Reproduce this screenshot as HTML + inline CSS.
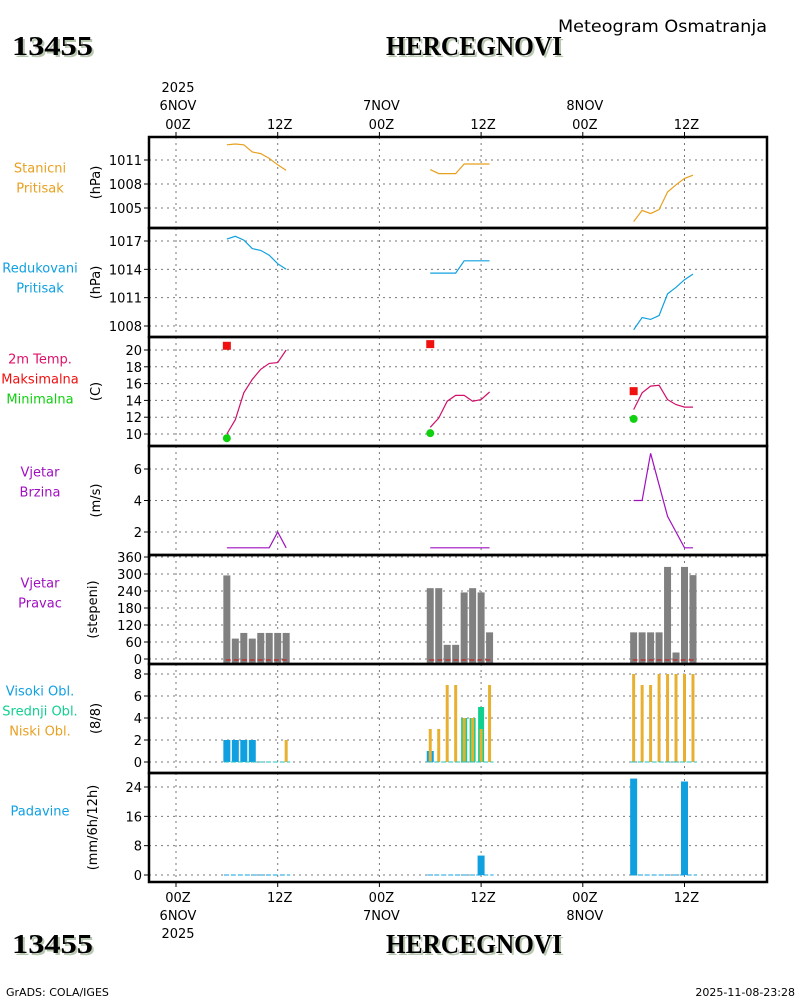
<!DOCTYPE html>
<html><head><meta charset="utf-8">
<style>
body{margin:0;background:#fff;}
svg{display:block;font-family:"DejaVu Sans","Liberation Sans",sans-serif;}
.t{font-size:13px;}
.big{font-family:"Liberation Serif",serif;font-weight:bold;font-size:27px;}
</style></head>
<body>
<svg id="c" width="800" height="1000" viewBox="0 0 800 1000" xmlns="http://www.w3.org/2000/svg">
<text x="558" y="32" font-size="17" textLength="209" lengthAdjust="spacingAndGlyphs">Meteogram Osmatranja</text>
<g>
<text class="big" x="14" y="57" fill="#b8c8b0" textLength="81" lengthAdjust="spacingAndGlyphs">13455</text>
<text class="big" x="12" y="55" fill="#000" textLength="81" lengthAdjust="spacingAndGlyphs">13455</text>
<text class="big" x="388" y="57" fill="#b8c8b0" textLength="176" lengthAdjust="spacingAndGlyphs">HERCEGNOVI</text>
<text class="big" x="386" y="55" fill="#000" textLength="176" lengthAdjust="spacingAndGlyphs">HERCEGNOVI</text>
</g>
<g>
<text class="big" x="14" y="955" fill="#b8c8b0" textLength="81" lengthAdjust="spacingAndGlyphs">13455</text>
<text class="big" x="12" y="953" fill="#000" textLength="81" lengthAdjust="spacingAndGlyphs">13455</text>
<text class="big" x="388" y="955" fill="#b8c8b0" textLength="176" lengthAdjust="spacingAndGlyphs">HERCEGNOVI</text>
<text class="big" x="386" y="953" fill="#000" textLength="176" lengthAdjust="spacingAndGlyphs">HERCEGNOVI</text>
</g>
<text x="6" y="996" font-size="11">GrADS: COLA/IGES</text>
<text x="795" y="996" font-size="11" text-anchor="end">2025-11-08-23:28</text>
<g id="g"></g>
</svg>
<script>
// time axis (hours since 6NOV 00Z)
const hours1 = [6,7,8,9,10,11,12,13];
const hours2 = [30,31,32,33,34,35,36,37];
const hours3 = [54,55,56,57,58,59,60,61];
const stPress = [1012.9,1013.0,1012.9,1012.0,1011.8,1011.2,1010.4,1009.7, 1009.8,1009.3,1009.3,1009.3,1010.5,1010.5,1010.5,1010.5, 1003.3,1004.7,1004.3,1004.8,1007.0,1007.9,1008.7,1009.1];
const redPress = [1017.2,1017.5,1017.1,1016.2,1016.0,1015.5,1014.6,1014.0, 1013.6,1013.6,1013.6,1013.6,1014.9,1014.9,1014.9,1014.9, 1007.6,1008.9,1008.7,1009.1,1011.4,1012.1,1012.9,1013.5];
const temp = [10.0,11.7,14.9,16.5,17.7,18.4,18.5,20.0, 10.8,11.9,13.9,14.6,14.6,13.9,14.1,15.0, 12.9,14.9,15.7,15.8,14.1,13.5,13.2,13.2];
const tmaxHours = [6,30,54];
const tmax = [20.5,20.7,15.1];
const tmin = [9.5,10.1,11.8];
const windSpd = [1,1,1,1,1,1,2,1, 1,1,1,1,1,1,1,1, 4,4,7,5,3,2,1,1];
const windDir = [295,72,92,72,92,92,92,92, 250,250,50,50,235,250,235,94, 94,94,94,94,325,23,325,296];
const cloudHigh = [2,2,2,2,0,0,0,0, 1,0,0,0,0,0,0,0, 0,0,0,0,0,0,0,0];
const cloudMid = [0,0,0,0,0,0,0,0, 0,0,0,0,4,4,5,0, 0,0,0,0,0,0,0,0];
const cloudLow = [0,0,0,0,0,0,0,2, 3,3,7,7,4,4,3,7, 8,7,7,8,8,8,8,8];
const precip = [0,0,0,0,0,0,0,0, 0,0,0,0,0,0,5.3,0, 26.3,0,0,0,0,0,25.5,0];
const ticksSt = [1005,1008,1011];
const ticksRed = [1008,1011,1014,1017];
const ticksT = [10,12,14,16,18,20];
const ticksW = [2,4,6];
const ticksDir = [0,60,120,180,240,300,360];
const ticksCl = [0,2,4,6,8];
const ticksPr = [0,8,16,24];
const gridHours = [0,12,24,36,48,60];
const hourLabels = ["00Z","12Z","00Z","12Z","00Z","12Z"];

const NS="http://www.w3.org/2000/svg";
const G=document.getElementById('g');
const L=149,R=767;
const x=h=>176+8.475*h;
const allH=hours1.concat(hours2,hours3);
function mk(tag,at,par){const e=document.createElementNS(NS,tag);for(const k in at)e.setAttribute(k,at[k]);(par||G).appendChild(e);return e;}
function txt(s,at,par){const e=mk('text',at,par);e.textContent=s;return e;}

const panels=[
 {top:137,bot:228,v0:1011,y0:160,v1:1005,y1:208,ticks:ticksSt,unit:"(hPa)",name:"station-pressure",labels:[["Stanicni","#e8a020"],["Pritisak","#e8a020"]]},
 {top:228,bot:337,v0:1017,y0:241,v1:1008,y1:326,ticks:ticksRed,unit:"(hPa)",name:"reduced-pressure",labels:[["Redukovani","#10a0e0"],["Pritisak","#10a0e0"]]},
 {top:337,bot:446,v0:20,y0:350,v1:10,y1:434,ticks:ticksT,unit:"(C)",name:"temperature",labels:[["2m Temp.","#e0106a"],["Maksimalna","#f01010"],["Minimalna","#10d010"]]},
 {top:446,bot:555,v0:6,y0:469,v1:2,y1:532,ticks:ticksW,unit:"(m/s)",name:"wind-speed",labels:[["Vjetar","#a010c0"],["Brzina","#a010c0"]]},
 {top:555,bot:664,v0:360,y0:557,v1:0,y1:659,ticks:ticksDir,unit:"(stepeni)",name:"wind-direction",labels:[["Vjetar","#a010c0"],["Pravac","#a010c0"]]},
 {top:664,bot:773,v0:8,y0:674,v1:0,y1:762,ticks:ticksCl,unit:"(8/8)",name:"cloud-cover",labels:[["Visoki Obl.","#10a0e0"],["Srednji Obl.","#10d090"],["Niski Obl.","#e8a020"]]},
 {top:773,bot:882,v0:24,y0:787,v1:0,y1:875,ticks:ticksPr,unit:"(mm/6h/12h)",name:"precipitation",labels:[["Padavine","#10a0e0"]]}
];
panels.forEach(p=>{p.y=v=>p.y0+(v-p.v0)*(p.y1-p.y0)/(p.v1-p.v0);});

panels.forEach(p=>{
  const g=mk('g',{});
  
  
  gridHours.forEach(h=>mk('line',{x1:x(h),x2:x(h),y1:p.top,y2:p.bot,stroke:'#777','stroke-dasharray':'2,4'},g));
  p.ticks.forEach(v=>{
    const yy=p.y(v);
    mk('line',{x1:L,x2:R,y1:yy,y2:yy,stroke:'#777','stroke-dasharray':'2,4'},g);
    mk('line',{x1:L-5,x2:L,y1:yy,y2:yy,stroke:'#000'},g);
    const t=txt(String(v),{x:L-7,y:yy+5,'text-anchor':'end',class:'t'},g);
    
    
  });
  const cy=(p.top+p.bot)/2;
  const ut=txt(p.unit,{x:0,y:0,class:'t','text-anchor':'middle',transform:`translate(${p.unit.length>6?97:100},${cy}) rotate(-90)`},g);
  
  
  const n=p.labels.length, ly=cy-(n-1)*10-(n===1?12:0)+(p.name==='temperature'?-8:0)+(p.name==='wind-speed'?-14:0)+(p.name==='wind-direction'?-12:0)+(p.name==='cloud-cover'?-3:0);
  p.labels.forEach((l,i)=>{
    const t=txt(l[0],{x:40,y:ly+i*20,fill:l[1],class:'t','text-anchor':'middle'},g);
    
    
  });
});

function line(vals,p,color,name){
  [hours1,hours2,hours3].forEach((hs,k)=>{
    const pts=hs.map((h,i)=>x(h)+','+p.y(vals[k*8+i]).toFixed(1)).join(' ');
    const e=mk('polyline',{points:pts,fill:'none',stroke:color,'stroke-width':1.2});
    
    
  });
}
line(stPress,panels[0],'#e8a020','station-pressure-line');
line(redPress,panels[1],'#10a0e0','reduced-pressure-line');
line(temp,panels[2],'#d0106a','temperature-line');
line(windSpd,panels[3],'#a010c0','wind-speed-line');
tmaxHours.forEach((h,i)=>{
  const p=panels[2];
  const r=mk('rect',{x:x(h)-4,y:p.y(tmax[i])-4,width:8,height:8,fill:'#f01010'});
  
  
  const c=mk('circle',{cx:x(h),cy:p.y(tmin[i]),r:4,fill:'#10d010'});
  
  
});
function bars(vals,p,color,w,name){
  allH.forEach((h,i)=>{
    const v=vals[i]; if(!v) return;
    const y0=p.y(0),y1=p.y(v);
    const r=mk('rect',{x:x(h)-w/2,y:Math.min(y0,y1),width:w,height:Math.abs(y0-y1)+(p.name==='wind-direction'?5:0),fill:color});
    
    
  });
}
bars(windDir,panels[4],'#808080',7,'wind-direction-bar');
[hours1,hours2,hours3].forEach(hs=>{
  const p=panels[4];
  const e=mk('line',{x1:x(hs[0])-1,x2:x(hs[7])+1,y1:p.y(0)+1,y2:p.y(0)+1,stroke:'#d01010','stroke-dasharray':'5,3'});
  
  
});
bars(cloudHigh,panels[5],'#10a0e0',7,'cloud-high-bar');
bars(cloudMid,panels[5],'#10d090',6,'cloud-mid-bar');
bars(cloudLow,panels[5],'#e8b030',3,'cloud-low-bar');
bars(precip,panels[6],'#10a0e0',7,'precip-bar');
[hours1,hours2,hours3].forEach(hs=>{
  [[5,'#20c0c0'],[6,'#10a0e0']].forEach(([pi,c])=>{
    const p=panels[pi];
    const e=mk('line',{x1:x(hs[0])-3,x2:x(hs[7])+4,y1:p.y(0),y2:p.y(0),stroke:c,'stroke-dasharray':'5,2'});
    
    
  });
});
panels.forEach(p=>{
  const r=mk('rect',{x:L,y:p.top,width:R-L,height:p.bot-p.top,fill:'none',stroke:'#000','stroke-width':2.5});
  
  
});
gridHours.forEach((h,i)=>{
  mk('line',{x1:x(h),x2:x(h),y1:132,y2:137,stroke:'#000'});
  mk('line',{x1:x(h),x2:x(h),y1:882,y2:887,stroke:'#000'});
  const a=txt(hourLabels[i],{x:x(h)+2,y:129,class:'t','text-anchor':'middle'});
  
  
  const b=txt(hourLabels[i],{x:x(h)+2,y:902,class:'t','text-anchor':'middle'});
  
  
});
[[0,"6NOV"],[24,"7NOV"],[48,"8NOV"]].forEach(([h,s])=>{
  const a=txt(s,{x:x(h)+2,y:110,class:'t','text-anchor':'middle'});
  
  
  const b=txt(s,{x:x(h)+2,y:920,class:'t','text-anchor':'middle'});
  
  
});
txt("2025",{x:x(0)+2,y:92,class:'t','text-anchor':'middle'});
txt("2025",{x:x(0)+2,y:938,class:'t','text-anchor':'middle'});
</script>
</body></html>
